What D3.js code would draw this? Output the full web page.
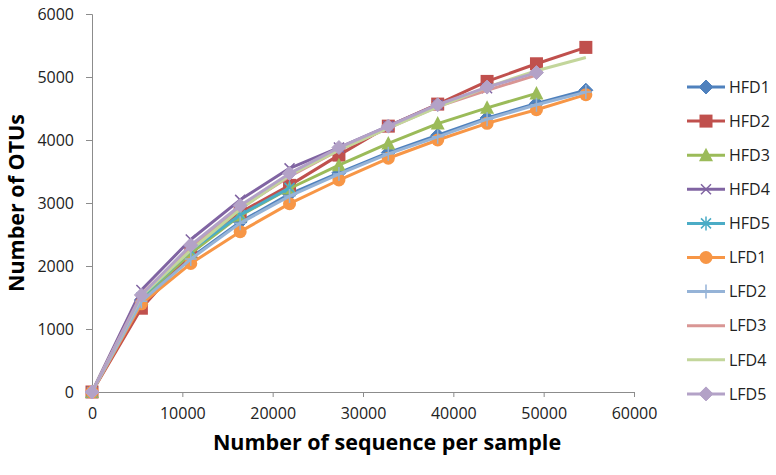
<!DOCTYPE html>
<html><head><meta charset="utf-8">
<script src="https://cdn.jsdelivr.net/npm/d3@7"></script>
<style>body{margin:0;background:#fff}svg{display:block}text{font-family:"Open Sans",sans-serif}</style>
</head><body><svg id="c" width="776" height="475"></svg>
<script>
const step = 5467;
const seriesNames = ["HFD1","HFD2","HFD3","HFD4","HFD5","LFD1","LFD2","LFD3","LFD4","LFD5"];
const colors = ["#4F81BD","#C0504D","#9BBB59","#8064A2","#4BACC6","#F79646","#95B3D7","#D99694","#C3D69B","#B3A2C7"];
const markers = ["diamond","square","triangle","x","star","circle","plus","none","none","diamond"];
const HFD1 = [0,1460,2130,2700,3140,3480,3800,4075,4350,4580,4790];
const HFD2 = [0,1330,2200,2850,3280,3760,4220,4570,4930,5210,5470];
const HFD3 = [0,1480,2200,2800,3230,3600,3945,4260,4510,4740];
const HFD4 = [0,1620,2420,3050,3550,3880,4220,4560,4820];
const HFD5 = [0,1500,2250,2810,3240];
const LFD1 = [0,1400,2040,2545,2990,3365,3710,4000,4265,4480,4720];
const LFD2 = [0,1440,2110,2680,3110,3460,3780,4050,4330,4560,4760];
const LFD3 = [0,1550,2300,2920,3420,3840,4190,4530,4790,5030];
const LFD4 = [0,1520,2250,2900,3440,3840,4190,4520,4840,5100,5310];
const LFD5 = [0,1540,2330,2960,3470,3880,4220,4560,4840,5070];
const values = [HFD1,HFD2,HFD3,HFD4,HFD5,LFD1,LFD2,LFD3,LFD4,LFD5];
const xTicks = [0,10000,20000,30000,40000,50000,60000];
const yTicks = [0,1000,2000,3000,4000,5000,6000];

const svg = d3.select("#c");
const x = d3.scaleLinear().domain([0,60000]).range([92,634]);
const y = d3.scaleLinear().domain([0,6000]).range([392,14]);

const xAxis = svg.append("g").attr("transform","translate(0,392)")
  .call(d3.axisBottom(x).tickValues(xTicks).tickSize(5).tickPadding(11).tickFormat(d3.format("d")));
const yAxis = svg.append("g").attr("transform","translate(92,0)")
  .call(d3.axisLeft(y).tickValues(yTicks).tickSize(6).tickPadding(12).tickFormat(d3.format("d")));
[xAxis,yAxis].forEach(a=>{
  a.select(".domain").attr("stroke","#8c8c8c");
  a.selectAll(".tick line").attr("stroke","#8c8c8c");
  a.selectAll(".tick text").attr("fill","#222").style("font-size","16px").style("font-family","Open Sans");
});

function drawMarker(g, type, color, cx, cy){
  const s = g.append("g").attr("transform",`translate(${cx},${cy})`);
  if(type==="diamond") s.append("path").attr("d","M0,-7L7,0L0,7L-7,0Z").attr("fill",color).attr("stroke",color);
  else if(type==="square") s.append("rect").attr("x",-6.5).attr("y",-6.5).attr("width",13).attr("height",13).attr("fill",color);
  else if(type==="triangle") s.append("path").attr("d","M0,-7.5L7,6L-7,6Z").attr("fill",color);
  else if(type==="circle") s.append("circle").attr("r",6.5).attr("fill",color);
  else if(type==="x") s.append("path").attr("d","M-5,-5L5,5M-5,5L5,-5").attr("stroke",color).attr("stroke-width",1.5);
  else if(type==="star") s.append("path").attr("d","M-5,-5L5,5M-5,5L5,-5M0,-7L0,7").attr("stroke",color).attr("stroke-width",1.5);
  else if(type==="plus") s.append("path").attr("d","M-6,0L6,0M0,-7L0,7").attr("stroke",color).attr("stroke-width",1.5);
}

const line = d3.line().x(d=>x(d[0])).y(d=>y(d[1]));
values.forEach((vals,k)=>{
  const pts = vals.map((v,i)=>[i*step,v]);
  const g = svg.append("g");
  g.append("path").attr("d",line(pts)).attr("fill","none").attr("stroke",colors[k]).attr("stroke-width",3).attr("stroke-linejoin","round");
  if(markers[k]!=="none") pts.forEach(p=>drawMarker(g,markers[k],colors[k],x(p[0]),y(p[1])));
});

const leg = svg.append("g");
seriesNames.forEach((n,k)=>{
  const cy = 87 + k*34.1;
  leg.append("line").attr("x1",687).attr("x2",725).attr("y1",cy).attr("y2",cy).attr("stroke",colors[k]).attr("stroke-width",3);
  if(markers[k]!=="none") drawMarker(leg,markers[k],colors[k],706,cy);
  leg.append("text").attr("x",729).attr("y",cy).attr("dy","0.36em").attr("fill","#222").style("font-size","16px").text(n);
});

svg.append("text").attr("x",387).attr("y",450).attr("text-anchor","middle").style("font-size","21.5px").style("font-weight","bold").attr("fill","#000").text("Number of sequence per sample");
svg.append("text").attr("transform","translate(24,203) rotate(-90)").attr("text-anchor","middle").style("font-size","21.5px").style("font-weight","bold").attr("fill","#000").text("Number of OTUs");
</script></body></html>
